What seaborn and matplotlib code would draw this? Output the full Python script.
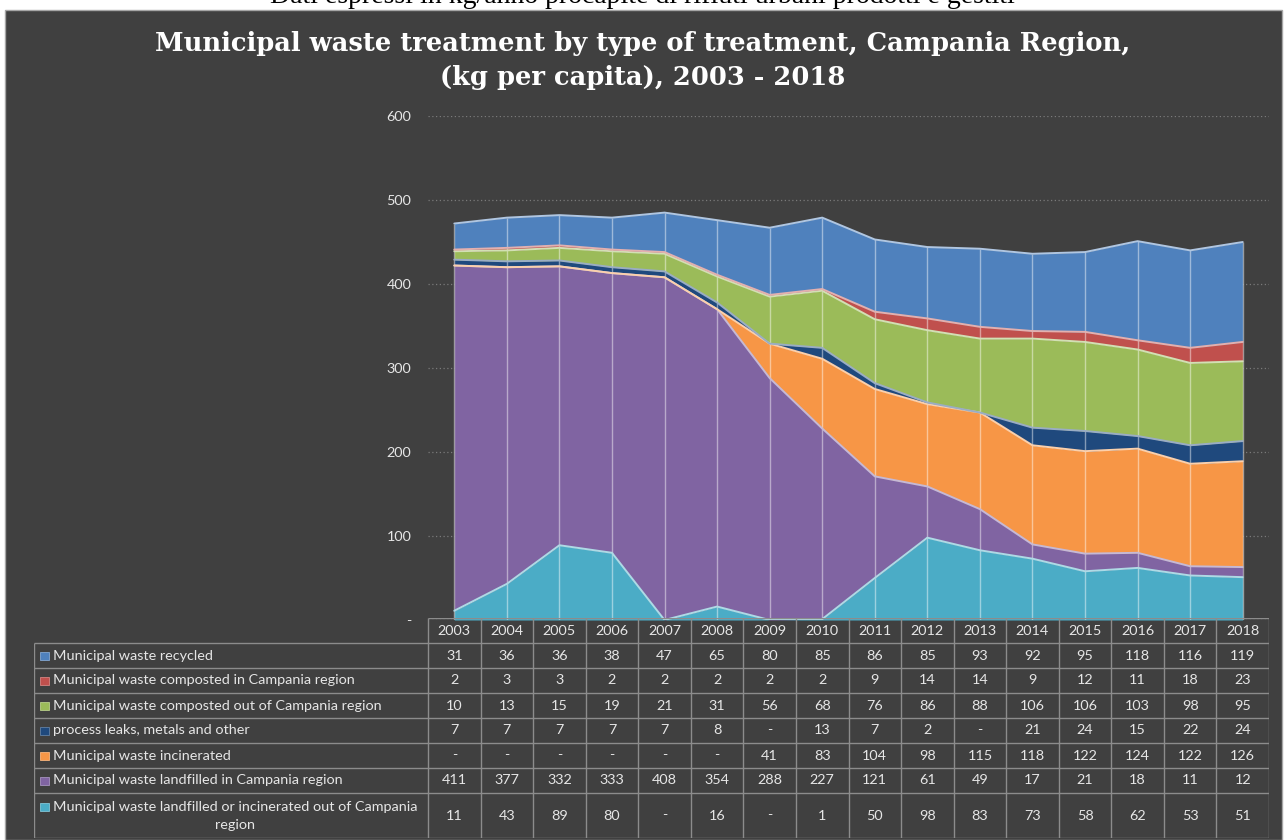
import numpy as np
import pandas as pd
import matplotlib.pyplot as plt
from matplotlib.patches import Rectangle
from matplotlib.colors import to_rgb
import seaborn as sns

years = list(range(2003, 2019))

recycled = [31, 36, 36, 38, 47, 65, 80, 85, 86, 85, 93, 92, 95, 118, 116, 119]
composted_in = [2, 3, 3, 2, 2, 2, 2, 2, 9, 14, 14, 9, 12, 11, 18, 23]
composted_out = [10, 13, 15, 19, 21, 31, 56, 68, 76, 86, 88, 106, 106, 103, 98, 95]
leaks = [7, 7, 7, 7, 7, 8, 0, 13, 7, 2, 0, 21, 24, 15, 22, 24]
incinerated = [0, 0, 0, 0, 0, 0, 41, 83, 104, 98, 115, 118, 122, 124, 122, 126]
landfill_in = [411, 377, 332, 333, 408, 354, 288, 227, 121, 61, 49, 17, 21, 18, 11, 12]
landfill_out = [11, 43, 89, 80, 0, 16, 0, 1, 50, 98, 83, 73, 58, 62, 53, 51]

# table order (top to bottom); the stack is drawn in reverse
labels = ['Municipal waste recycled',
          'Municipal waste composted in Campania region',
          'Municipal waste composted out of Campania region',
          'process leaks, metals and other',
          'Municipal waste incinerated',
          'Municipal waste landfilled in Campania region',
          'Municipal waste landfilled or incinerated out of Campania\nregion']
series = [recycled, composted_in, composted_out, leaks, incinerated, landfill_in, landfill_out]
colors = ['#4F81BD', '#C0504D', '#9BBB59', '#1F497D', '#F79646', '#8064A2', '#4BACC6']

title = 'Municipal waste treatment by type of treatment, Campania Region,\n(kg per capita), 2003 - 2018'
top_note = 'Dati espressi in kg/anno procapite di rifiuti urbani prodotti e gestiti'

sns.set_theme(style='dark')
plt.rcParams['font.family'] = ['Lato', 'DejaVu Sans']

W, H = 1285, 840
BG = '#404040'
TXT = '#e6e6e6'
FS = 10.4
fig = plt.figure(figsize=(W / 100, H / 100), dpi=100)
fig.patch.set_facecolor('white')
fig.patches.append(Rectangle((5 / W, 0), 1277 / W, 830 / H, transform=fig.transFigure,
                             facecolor=BG, edgecolor='#a6a6a6', lw=1, zorder=-10))

fig.text(0.5, 1 - 3 / H, top_note, ha='center', va='baseline', fontsize=20,
         family='Liberation Serif', color='black', zorder=-5)
fig.text(0.5, 1 - 61 / H, title, ha='center', va='center', fontsize=18.5,
         family='DejaVu Serif', fontweight='bold', color='white', linespacing=1.45)

# plot area
n = len(years)
col_w = (1269 - 428) / n
ax = fig.add_axes([428 / W, 1 - 620 / H, (1269 - 428) / W, 504 / H])
ax.set_facecolor(BG)
pos = np.arange(n)

stack_vals = series[::-1]
stack_cols = colors[::-1]
ax.stackplot(pos, *stack_vals, colors=stack_cols, lw=0, zorder=1)

cum = np.cumsum(np.array(stack_vals), axis=0)
ax.vlines(pos, 0, cum[-1], colors='white', alpha=0.45, lw=1, zorder=2)

def tint(c, f=0.55):
    r = np.array(to_rgb(c))
    return tuple(r + (1 - r) * f)

edges = pd.DataFrame([
    {'pos': p, 'top': cum[i][j], 'layer': i}
    for i in range(len(stack_vals)) for j, p in enumerate(pos)
])
sns.lineplot(data=edges, x='pos', y='top', hue='layer',
             palette={i: tint(c) for i, c in enumerate(stack_cols)},
             legend=False, lw=1.4, estimator=None, sort=False, ax=ax, zorder=3)

ax.set_xlim(-0.5, n - 0.5)
ax.set_ylim(0, 600)
ax.set_yticks(range(0, 601, 100))
ax.set_yticklabels(['-'] + [str(v) for v in range(100, 601, 100)], color=TXT, fontsize=FS)
ax.set_xticks([])
ax.set_xlabel('')
ax.set_ylabel('')
ax.tick_params(axis='y', length=0, pad=12)
ax.yaxis.grid(True, ls=(0, (1, 2)), color='#7a7a7a', lw=0.9)
ax.set_axisbelow(True)
for s in ax.spines.values():
    s.set_visible(False)

# data table
tab = fig.add_axes([34 / W, 1 - 838 / H, (1269 - 34) / W, 220 / H])
tab.set_xlim(34, 1269)
tab.set_ylim(838, 618)
tab.axis('off')
grid_c = '#8c8c8c'
row_edges = [643 + 25 * k for k in range(7)] + [838]
col_edges = [428 + col_w * k for k in range(n + 1)]

tab.hlines(618, 428, 1269, color=grid_c, lw=1)
tab.hlines(row_edges, 34, 1269, color=grid_c, lw=1)
tab.vlines(34, 643, 838, color=grid_c, lw=1)
tab.vlines(col_edges, 618, 838, color=grid_c, lw=1)

for k, y in enumerate(years):
    tab.text(col_edges[k] + col_w / 2, 631, str(y), ha='center', va='center',
             color=TXT, fontsize=FS)

for r, (lab, vals, c) in enumerate(zip(labels, series, colors)):
    y0, y1 = row_edges[r], row_edges[r + 1]
    yc = (y0 + y1) / 2
    if '\n' in lab:
        ly = y0 + 14
        tab.text(53, y0 + 8, lab, ha='left', va='top', multialignment='center',
                 color=TXT, fontsize=FS, linespacing=1.6)
    else:
        ly = yc
        tab.text(53, yc, lab, ha='left', va='center', color=TXT, fontsize=FS)
    tab.add_patch(Rectangle((40, ly - 4), 9, 8, facecolor=c, edgecolor=tint(c, 0.3), lw=0.6))
    for k, v in enumerate(vals):
        tab.text(col_edges[k] + col_w / 2, yc, str(v) if v else '-', ha='center',
                 va='center', color=TXT, fontsize=FS)

fig.savefig('out.png', dpi=100, facecolor=fig.get_facecolor())
